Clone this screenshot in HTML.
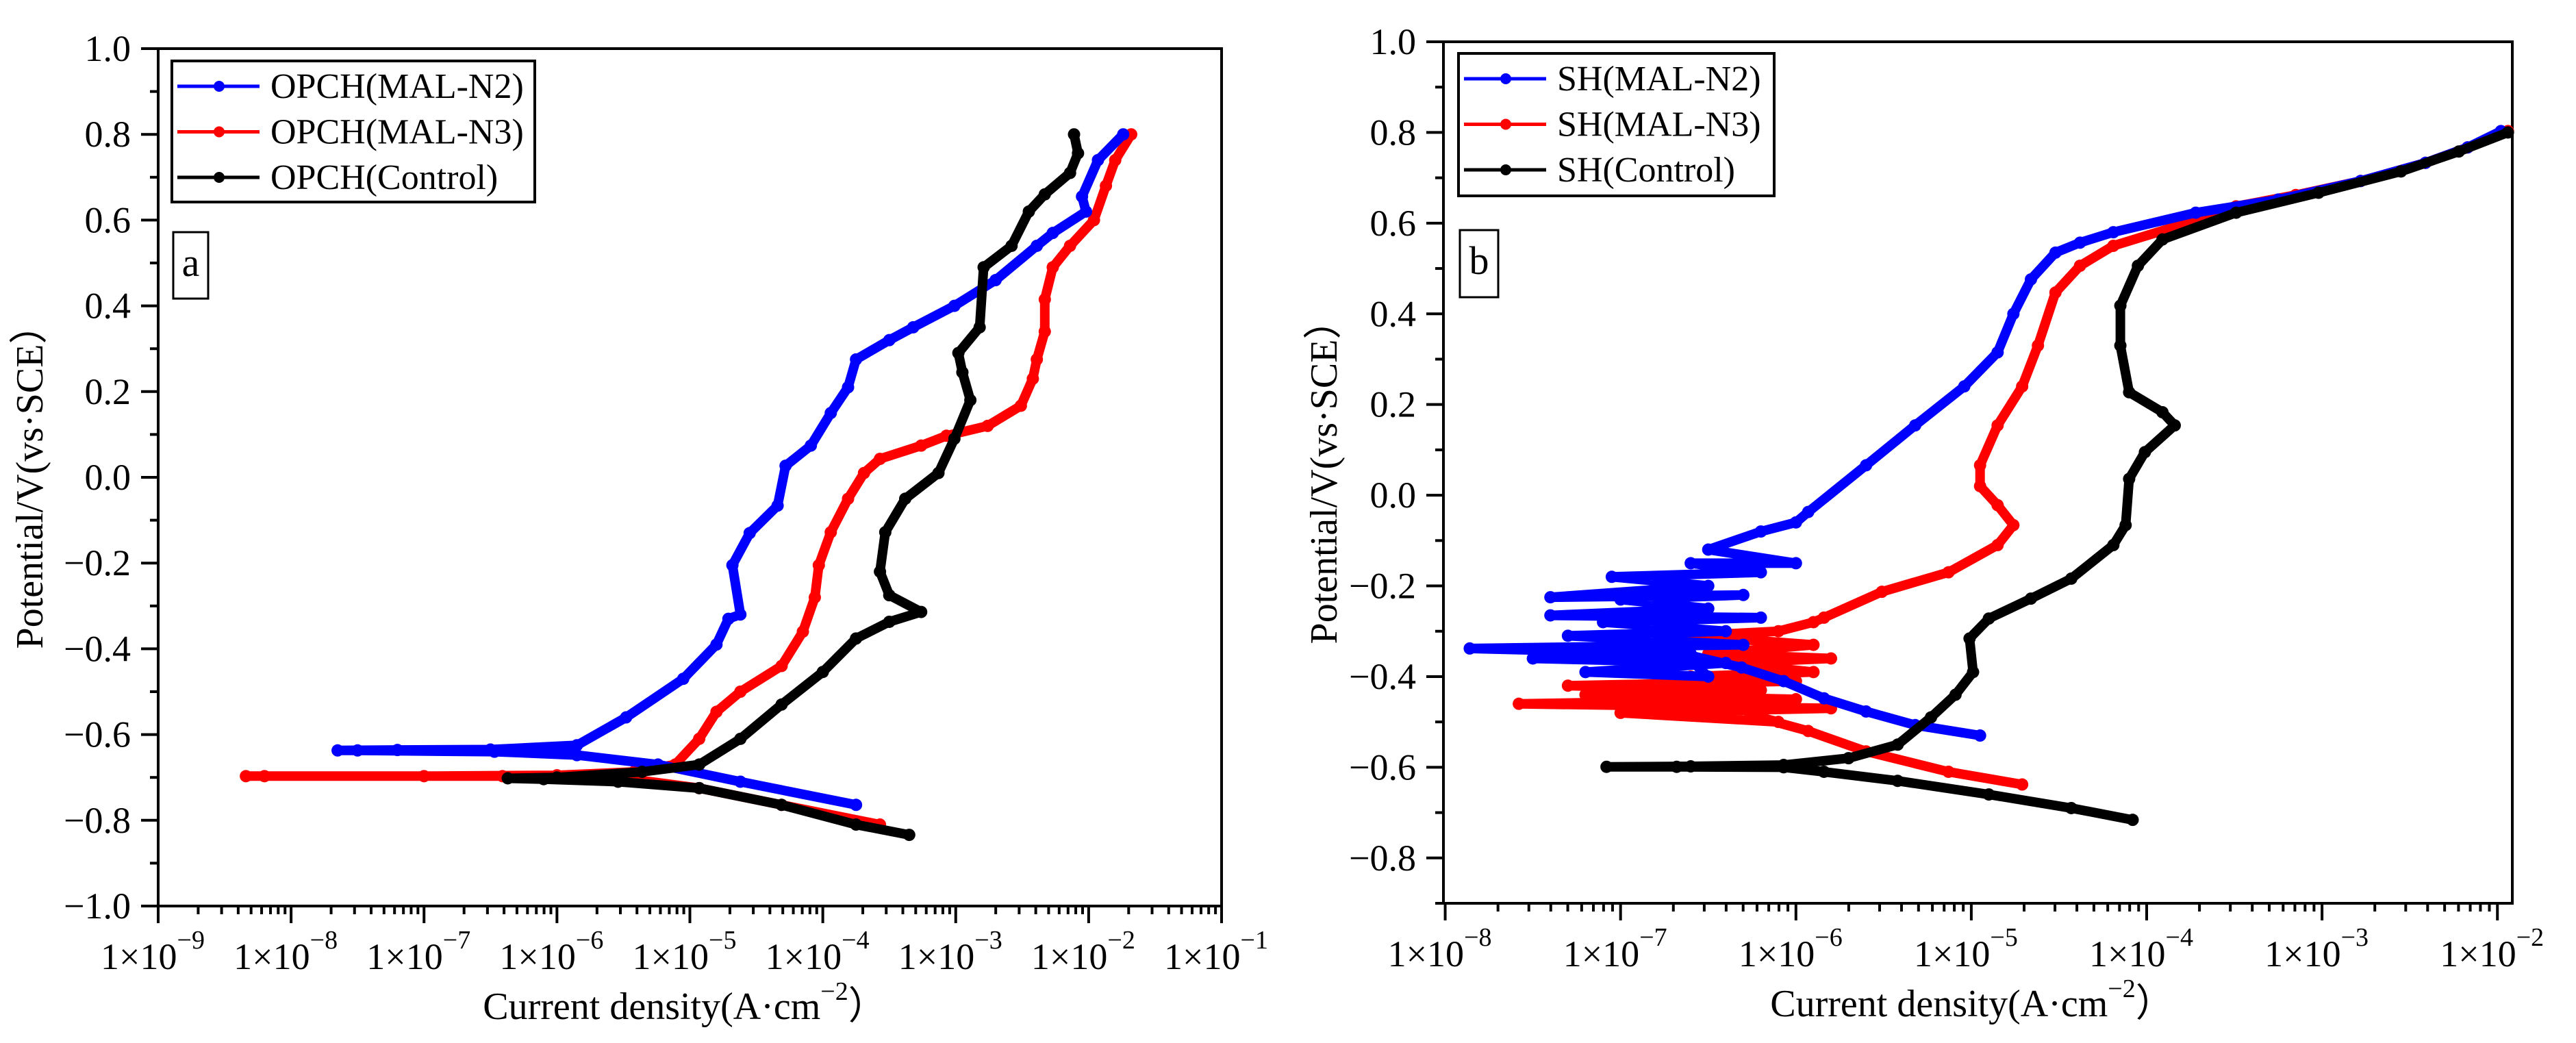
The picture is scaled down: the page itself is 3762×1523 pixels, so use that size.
<!DOCTYPE html>
<html><head><meta charset="utf-8"><style>
html,body{margin:0;padding:0;background:#fff;}
svg{display:block;font-family:"Liberation Serif",serif;}
</style></head><body>
<svg id="chart" width="3762" height="1523" viewBox="0 0 3762 1523" xmlns="http://www.w3.org/2000/svg">
<rect x="0" y="0" width="3762" height="1523" fill="#fff"/>
</svg>
<script>
// ---- Panel a data (log10 current density, potential V) ----
const aBlueLogI = [-3.75,-4.62,-5.24,-5.85,-6.47,-7.5,-7.65,-7.2,-6.5,-5.85,-5.48,-5.05,-4.80,-4.71,-4.62,-4.68,-4.55,-4.34,-4.28,-4.09,-3.94,-3.81,-3.75,-3.50,-3.32,-3.01,-2.70,-2.39,-2.27,-2.02,-2.05,-1.93,-1.74];
const aBlueE    = [-0.764,-0.71,-0.67,-0.648,-0.64,-0.637,-0.637,-0.636,-0.635,-0.625,-0.56,-0.47,-0.39,-0.33,-0.32,-0.205,-0.13,-0.066,0.027,0.074,0.15,0.21,0.275,0.32,0.35,0.40,0.46,0.54,0.57,0.62,0.655,0.74,0.80];
const aRedLogI  = [-3.57,-4.31,-4.93,-5.54,-6.41,-8.2,-8.34,-7.0,-6.0,-5.42,-5.11,-4.93,-4.80,-4.62,-4.31,-4.15,-4.06,-4.03,-3.94,-3.81,-3.69,-3.57,-3.26,-3.07,-2.76,-2.51,-2.42,-2.39,-2.33,-2.33,-2.27,-2.14,-1.96,-1.87,-1.80,-1.68];
const aRedE     = [-0.81,-0.764,-0.725,-0.70,-0.697,-0.697,-0.697,-0.697,-0.695,-0.687,-0.67,-0.61,-0.547,-0.50,-0.44,-0.36,-0.28,-0.205,-0.128,-0.05,0.01,0.043,0.074,0.097,0.12,0.167,0.23,0.275,0.34,0.415,0.49,0.54,0.60,0.68,0.74,0.80];
const aBlackLogI= [-3.35,-3.75,-4.31,-4.93,-5.54,-6.1,-6.37,-6.0,-5.36,-4.93,-4.62,-4.31,-4.0,-3.75,-3.50,-3.26,-3.50,-3.57,-3.53,-3.38,-3.13,-3.01,-2.89,-2.95,-2.98,-2.82,-2.79,-2.58,-2.45,-2.33,-2.14,-2.08,-2.11];
const aBlackE   = [-0.834,-0.81,-0.764,-0.725,-0.71,-0.704,-0.702,-0.70,-0.687,-0.67,-0.61,-0.53,-0.454,-0.376,-0.337,-0.314,-0.275,-0.22,-0.128,-0.05,0.01,0.09,0.18,0.245,0.29,0.35,0.49,0.54,0.62,0.66,0.71,0.756,0.80];
// ---- Panel b data ----
const bBlueLogI = [-4.95,-5.32,-5.60,-5.84,-6.07,-6.31,-6.64,-6.5,-7.2,-6.4,-7.5,-6.6,-7.86,-6.3,-7.3,-6.4,-7.1,-6.2,-7.4,-6.5,-7.0,-6.3,-7.4,-6.5,-7.05,-6.2,-6.6,-6.0,-6.5,-6.2,-6.0,-5.93,-5.60,-5.32,-5.04,-4.85,-4.76,-4.66,-4.52,-4.38,-4.19,-3.72,-3.25,-2.78,-2.41,-2.17,-1.98];
const bBlueE    = [-0.53,-0.507,-0.477,-0.448,-0.41,-0.38,-0.35,-0.40,-0.39,-0.37,-0.36,-0.35,-0.338,-0.33,-0.31,-0.30,-0.28,-0.27,-0.265,-0.25,-0.23,-0.22,-0.225,-0.20,-0.18,-0.17,-0.15,-0.15,-0.12,-0.08,-0.06,-0.037,0.066,0.154,0.24,0.315,0.40,0.476,0.535,0.557,0.58,0.623,0.652,0.693,0.733,0.767,0.803];
const bRedLogI  = [-4.71,-5.13,-5.60,-5.93,-6.26,-6.1,-7.0,-5.8,-7.58,-6.0,-7.2,-6.2,-7.3,-6.0,-6.6,-5.9,-6.4,-5.8,-6.5,-5.9,-6.6,-6.1,-5.9,-5.84,-5.51,-5.13,-4.85,-4.76,-4.85,-4.95,-4.95,-4.85,-4.71,-4.62,-4.52,-4.38,-4.19,-3.82,-3.49,-3.15,-2.78,-2.41,-2.17,-1.94];
const bRedE     = [-0.638,-0.61,-0.565,-0.52,-0.485,-0.50,-0.48,-0.47,-0.46,-0.45,-0.44,-0.43,-0.42,-0.41,-0.40,-0.39,-0.37,-0.36,-0.35,-0.33,-0.31,-0.30,-0.28,-0.27,-0.213,-0.17,-0.11,-0.066,-0.022,0.02,0.066,0.154,0.24,0.33,0.447,0.506,0.55,0.594,0.637,0.662,0.693,0.733,0.767,0.803];
const bBlackLogI= [-4.08,-4.43,-4.90,-5.42,-5.84,-6.07,-6.68,-7.08,-6.6,-6.07,-5.70,-5.42,-5.23,-5.09,-4.99,-5.01,-4.90,-4.66,-4.43,-4.19,-4.12,-4.10,-4.01,-3.84,-3.91,-4.10,-4.15,-4.15,-4.05,-3.91,-3.49,-3.02,-2.55,-2.22,-1.94];
const bBlackE   = [-0.716,-0.69,-0.66,-0.63,-0.61,-0.60,-0.599,-0.599,-0.598,-0.595,-0.58,-0.55,-0.49,-0.44,-0.39,-0.316,-0.272,-0.228,-0.184,-0.11,-0.066,0.036,0.095,0.154,0.183,0.227,0.33,0.418,0.506,0.564,0.623,0.667,0.714,0.758,0.80];
const aYTicks = [1.0,0.8,0.6,0.4,0.2,0.0,-0.2,-0.4,-0.6,-0.8,-1.0];
const bYTicks = [1.0,0.8,0.6,0.4,0.2,0.0,-0.2,-0.4,-0.6,-0.8];
const aXDecades = [-9,-8,-7,-6,-5,-4,-3,-2,-1];
const bXDecades = [-8,-7,-6,-5,-4,-3,-2];
const aLegend = ["OPCH(MAL-N2)","OPCH(MAL-N3)","OPCH(Control)"];
const bLegend = ["SH(MAL-N2)","SH(MAL-N3)","SH(Control)"];

const NS="http://www.w3.org/2000/svg";
const svg=document.getElementById('chart');
function mk(tag,attrs,parent){const e=document.createElementNS(NS,tag);for(const k in attrs)e.setAttribute(k,attrs[k]);(parent||svg).appendChild(e);return e;}
function fmt(v){const s=Math.abs(v).toFixed(1);return (v<0?"\u2212":"")+s;}

function panel(p){
  const g=mk('g',{});
  
  
  const sx=v=>p.L+(v-p.xmin)/(p.xmax-p.xmin)*(p.R-p.L);
  const sy=v=>p.T+(p.ymax-v)/(p.ymax-p.ymin)*(p.B-p.T);
  const fr=mk('rect',{x:p.L,y:p.T,width:p.R-p.L,height:p.B-p.T,fill:'none',stroke:'#000','stroke-width':4},g);
  
  
  const yax=mk('g',{},g);
  
  
  p.yt.forEach(v=>{
    const y=sy(v);
    mk('line',{x1:p.L-25,x2:p.L,y1:y,y2:y,stroke:'#000','stroke-width':4},yax);
    if(v-0.1>=p.ymin-1e-9) mk('line',{x1:p.L-12,x2:p.L,y1:sy(v-0.1),y2:sy(v-0.1),stroke:'#000','stroke-width':4},yax);
    const t=mk('text',{x:p.L-40,y:y+18,'font-size':54,'text-anchor':'end'},yax);
    t.textContent=fmt(v);
    
    
  });
  const xax=mk('g',{},g);
  
  
  p.xd.forEach((d,i)=>{
    const x=sx(d);
    mk('line',{x1:x,x2:x,y1:p.B,y2:p.B+25,stroke:'#000','stroke-width':4},xax);
    if(i<p.xd.length-1){for(let m=2;m<=9;m++){const xm=sx(d+Math.log10(m));mk('line',{x1:xm,x2:xm,y1:p.B,y2:p.B+12,stroke:'#000','stroke-width':4},xax);}}
    const t=mk('text',{x:x-8,y:p.B+92,'font-size':54,'text-anchor':'middle'},xax);
    
    
    const t1=mk('tspan',{},t);t1.textContent='1\u00d710';
    const t2=mk('tspan',{dy:-30,'font-size':38},t);t2.textContent='\u2212'+Math.abs(d);
  });
  const xt=mk('text',{x:p.xtx,y:p.B+165,'font-size':56,'text-anchor':'middle'},g);
  
  
  const a1=mk('tspan',{},xt);a1.textContent='Current density(A\u00b7cm';
  const a2=mk('tspan',{dy:-28,'font-size':38},xt);a2.textContent='\u22122';
  const a3=mk('tspan',{dy:28},xt);a3.textContent='\uff09';
  const yt=mk('text',{x:0,y:0,'font-size':56,'text-anchor':'middle',transform:`translate(${p.ytx},${(p.T+p.B)/2}) rotate(-90)`},g);
  
  
  yt.textContent='Potential/V(vs\u00b7SCE\uff09';
  const cols=['#ff0000','#0000ff','#000000'];
  const ser=[[p.red[0],p.red[1],'red'],[p.blue[0],p.blue[1],'blue'],[p.black[0],p.black[1],'black']];
  ser.forEach((s,k)=>{
    const sg=mk('g',{},g);
    
    
    const pts=s[0].map((v,i)=>sx(v).toFixed(1)+','+sy(s[1][i]).toFixed(1)).join(' ');
    mk('polyline',{points:pts,fill:'none',stroke:cols[k],'stroke-width':14,'stroke-linejoin':'round','stroke-linecap':'round'},sg);
    s[0].forEach((v,i)=>{
      const c=mk('circle',{cx:sx(v),cy:sy(s[1][i]),r:9,fill:cols[k]},sg);
      
      
    });
  });
  const lg=mk('g',{},g);
  
  
  mk('rect',{x:p.lg[0],y:p.lg[1],width:p.lg[2],height:p.lg[3],fill:'#fff',stroke:'#000','stroke-width':4},lg);
  const lc=['#0000ff','#ff0000','#000000'];
  p.legend.forEach((name,i)=>{
    const y=p.lg[1]+37+i*66.5;
    const e=mk('g',{},lg);
    
    
    mk('line',{x1:p.lg[0]+8,x2:p.lg[0]+128,y1:y,y2:y,stroke:lc[i],'stroke-width':5},e);
    mk('circle',{cx:p.lg[0]+69,cy:y,r:8,fill:lc[i]},e);
    const t=mk('text',{x:p.lg[0]+144,y:y+17,'font-size':52},e);
    t.textContent=name;
  });
  const pl=mk('g',{},g);
  
  
  mk('rect',{x:p.pb[0],y:p.pb[1],width:p.pb[2],height:p.pb[3],fill:'#fff',stroke:'#000','stroke-width':3},pl);
  const tt=mk('text',{x:p.pb[0]+p.pb[2]/2,y:p.pb[1]+64,'font-size':58,'text-anchor':'middle'},pl);
  tt.textContent=p.id;
}

panel({id:'a',L:231,R:1784,T:71,B:1323,xmin:-9,xmax:-1,ymin:-1,ymax:1,yt:aYTicks,xd:aXDecades,
  red:[aRedLogI,aRedE],blue:[aBlueLogI,aBlueE],black:[aBlackLogI,aBlackE],legend:aLegend,
  lg:[251,89,530,206],pb:[253,339,51,97],xtx:1000,ytx:62});
panel({id:'b',L:2108,R:3669,T:61,B:1319,xmin:-8.01,xmax:-1.915,ymin:-0.9,ymax:1,yt:bYTicks,xd:bXDecades,
  red:[bRedLogI,bRedE],blue:[bBlueLogI,bBlueE],black:[bBlackLogI,bBlackE],legend:bLegend,
  lg:[2130,78,461,208],pb:[2132,336,56,98],xtx:2880,ytx:1952});
</script>
</body></html>
